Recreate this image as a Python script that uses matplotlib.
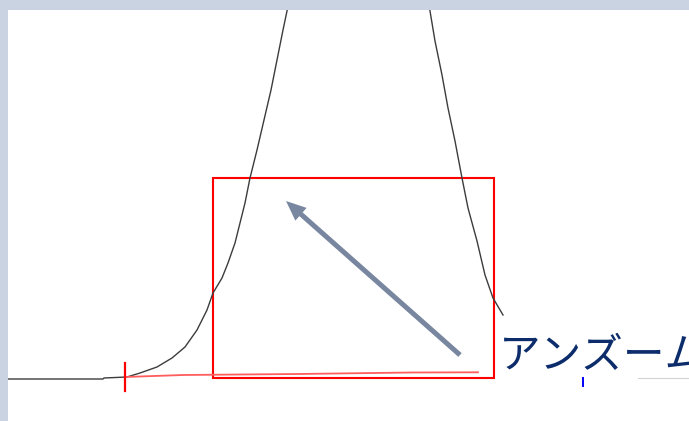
import matplotlib
matplotlib.use("Agg")
import matplotlib.pyplot as plt
from matplotlib.patches import Rectangle

plt.rcParams['font.family'] = ['Noto Sans CJK JP', 'DejaVu Sans']

# signal trace (x position, height above baseline)
trace_x = [8, 103, 104, 127, 140, 157, 172, 185, 197, 207, 213, 222, 228, 235, 240, 245,
           250, 257, 264, 271, 277, 283, 287, 290,
           427, 430, 435, 442, 448, 455, 462, 468, 477, 485, 493, 503]
trace_y = [0, 0, 1, 2, 6, 12, 21, 32, 49, 69, 86, 101, 116, 136, 156, 176,
           201, 229, 259, 289, 319, 349, 368, 384,
           384, 368, 338, 304, 271, 238, 201, 171, 138, 104, 81, 64]

# baseline drawn under the peak
base_x = [125, 183, 298, 412, 478]
base_y = [2, 4, 5, 6.5, 6.7]

# zoom box
box_x = [213, 494]
box_y = [1, 201]

# markers
start_x = 125
start_y = [-12, 16]
end_x = 583
end_y = [-7, 1]
grid_x = [638, 689]
grid_y = [1, 1]

# arrow tail -> head
arrow_from = (460, 24)
arrow_to = (286, 178)
label = "アンズーム"
label_pos = (499, 11)

fig = plt.figure(figsize=(6.89, 4.21), dpi=100)
fig.patch.set_facecolor('#c9d3e2')
ax = fig.add_axes([8 / 689, 0, 681 / 689, 411 / 421])
ax.set_facecolor('white')
for s in ax.spines.values():
    s.set_visible(False)
ax.set_xticks([])
ax.set_yticks([])
ax.set_xlim(8, 689)
ax.set_ylim(-42, 369)

ax.plot(trace_x, trace_y, color='#3c3c3c', lw=1.0)
ax.plot(base_x, base_y, color='#ff5c5c', lw=1.3)
ax.add_patch(Rectangle((box_x[0], box_y[0]), box_x[1] - box_x[0], box_y[1] - box_y[0],
                       fill=False, edgecolor='#ff0000', lw=1.5))
ax.plot([start_x, start_x], start_y, color='#ff0000', lw=1.6)
ax.plot([end_x, end_x], end_y, color='#0000ff', lw=1.4)
ax.plot(grid_x, grid_y, color='#d4d4d4', lw=0.8)

ax.arrow(arrow_from[0], arrow_from[1], arrow_to[0] - arrow_from[0], arrow_to[1] - arrow_from[1],
         width=5, head_width=17, head_length=20, length_includes_head=True,
         color='#7886a0', lw=0)

ax.text(label_pos[0], label_pos[1], label, fontsize=30, color='#0c2c6c',
        ha='left', va='baseline', clip_on=False)

fig.savefig('out.png', dpi=100, facecolor=fig.get_facecolor())
